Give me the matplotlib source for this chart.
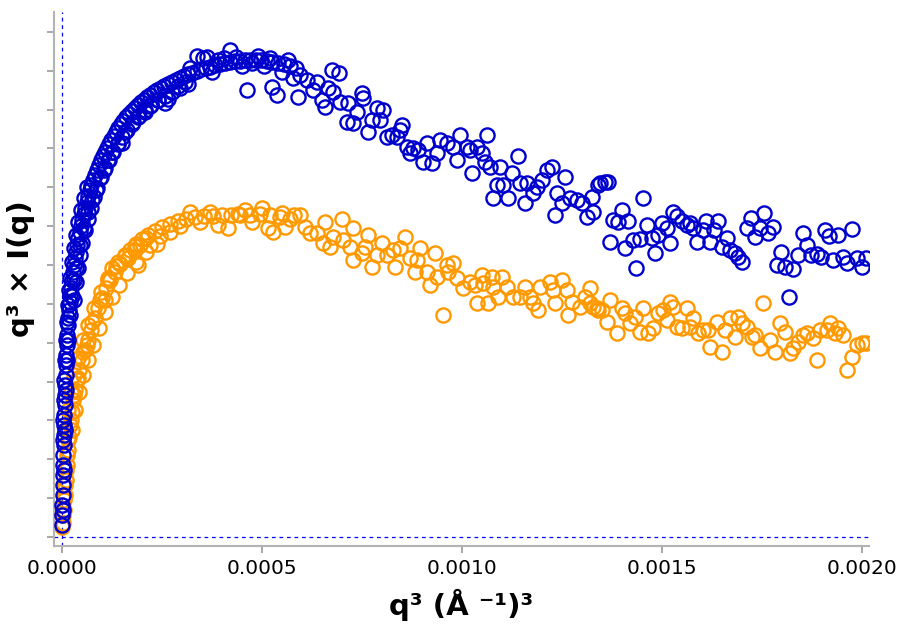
import numpy as np
import matplotlib
matplotlib.use("Agg")
import matplotlib.pyplot as plt

# q^3 values in units of 1e-4 A^-3, q^3*I(q) in arbitrary units (no y labels on the chart)
q3_blue = [
    0.00, 0.00, 0.025, 0.025, 0.025, 0.025, 0.025, 0.05, 0.05, 0.05, 0.05, 0.075, 0.075, 0.075,
    0.10, 0.10, 0.10, 0.125, 0.125, 0.15, 0.15, 0.175, 0.20, 0.20, 0.225, 0.25, 0.275, 0.30,
    0.325, 0.35, 0.375, 0.40, 0.45, 0.475, 0.50, 0.55, 0.575, 0.625, 0.65, 0.70, 0.725, 0.775,
    0.825, 0.875, 0.925, 0.975, 1.025, 1.075, 1.125, 1.175, 1.225, 1.30, 1.35, 1.40, 1.475,
    1.525, 1.60, 1.675, 1.75, 1.825, 1.90, 1.975, 2.05, 2.125, 2.20, 2.30, 2.375, 2.475, 2.55,
    2.65, 2.75, 2.85, 2.95, 3.05, 3.15, 3.25, 3.375, 3.475, 3.60, 3.70, 3.825, 3.95, 4.075,
    4.20, 4.325, 4.45, 4.575, 4.70, 4.85, 4.975, 5.125, 5.25, 5.40, 5.55, 5.70, 5.85,
    # scatter around the rising part and the maximum
    0.45, 0.55, 0.65, 0.75, 0.85, 0.95, 1.05, 1.15, 1.25, 1.40, 1.50, 1.575, 1.75, 1.90,
    2.075, 2.20, 2.40, 2.575, 2.65, 2.75, 2.90, 3.075, 3.20, 3.375, 3.525, 3.625, 3.75, 3.90,
    4.05, 4.20, 4.35, 4.50, 4.625, 4.75, 4.90, 5.05, 5.20, 5.25, 5.375, 5.50, 5.65, 5.775,
    5.90, 0.10, 0.125, 0.15, 0.20, 0.25, 0.30, 0.35, 0.05, 0.075, 0.00, 0.025,
    0.30, 0.35, 0.40, 0.45, 0.50, 0.575, 0.65, 0.725, 0.80, 0.875, 0.975, 1.075, 1.175,
    1.275, 1.40, 1.50, 1.625, 1.775, 1.925, 2.075, 2.225, 2.40, 2.575, 2.75, 2.95, 3.15,
    0.025, 0.025, 0.05, 0.05, 0.075, 0.10, 0.125, 0.15, 0.175, 0.20, 0.25, 0.30, 0.35,
    0.40, 0.475, 0.55, 0.625,
    # decaying part
    5.95, 6.125, 6.275, 6.375, 6.50, 6.575, 6.65, 6.75, 6.775, 6.925, 6.95, 7.125, 7.15,
    7.275, 7.375, 7.50, 7.525, 7.65, 7.75, 7.875, 7.95, 8.025, 8.125, 8.25, 8.375, 8.45,
    8.50, 8.625, 8.70, 8.775, 8.90, 9.025, 9.125, 9.25, 9.375, 9.45, 9.625, 9.775, 9.875,
    9.95, 10.125, 10.20, 10.25, 10.375, 10.50, 10.575, 10.625, 10.70, 10.775, 10.875, 10.95,
    11.025, 11.15, 11.25, 11.40, 11.45, 11.575, 11.625, 11.775, 11.875, 12.00, 12.125, 12.25,
    12.325, 12.375, 12.50, 12.575, 12.70, 12.875, 13.00, 13.125, 13.25, 13.275, 13.40,
    13.45, 13.575, 13.65, 13.70, 13.775, 13.90, 14.00, 14.075, 14.15, 14.275, 14.35, 14.45,
    14.525, 14.625, 14.75, 14.825, 14.90, 15.00, 15.125, 15.20, 15.275, 15.375, 15.50,
    15.625, 15.70, 15.775, 15.875, 16.025, 16.10, 16.20, 16.30, 16.40, 16.50, 16.625, 16.70,
    16.825, 16.90, 17.00, 17.125, 17.225, 17.325, 17.45, 17.55, 17.65, 17.775, 17.875,
    17.975, 18.075, 18.175, 18.275, 18.40, 18.525, 18.625, 18.725, 18.875, 18.975, 19.075,
    19.175, 19.275, 19.40, 19.525, 19.625, 19.75, 19.875, 20.00, 20.10,
]
iq_blue = [
    0.57, 0.82, 1.08, 1.34, 1.60, 1.85, 2.11, 2.37, 2.63, 2.88, 3.14, 3.40, 3.66, 3.91,
    4.17, 4.43, 4.68, 4.94, 5.20, 5.46, 5.64, 5.84, 6.05, 6.23, 6.41, 6.62, 6.82, 7.00,
    7.18, 7.34, 7.52, 7.70, 7.85, 8.01, 8.16, 8.31, 8.47, 8.62, 8.78, 8.93, 9.06, 9.19,
    9.32, 9.45, 9.58, 9.70, 9.81, 9.91, 10.01, 10.12, 10.22, 10.32, 10.42, 10.53, 10.63,
    10.71, 10.81, 10.89, 10.97, 11.04, 11.12, 11.20, 11.25, 11.33, 11.38, 11.45, 11.51, 11.56, 11.61,
    11.66, 11.71, 11.76, 11.81, 11.87, 11.92, 11.94, 11.99, 12.05, 12.07, 12.10, 12.15, 12.18, 12.20,
    12.23, 12.25, 12.25, 12.28, 12.28, 12.28, 12.28, 12.25, 12.23, 12.20, 12.18, 12.12, 12.07,
    7.52, 7.95, 8.37, 8.67, 8.93, 9.24, 9.45, 9.70, 9.91, 10.14, 10.14, 10.42, 10.63, 10.81,
    10.94, 11.09, 11.25, 11.17, 11.27, 11.45, 11.61, 11.71, 12.07, 12.38, 12.33, 12.36, 11.97, 12.28,
    12.33, 12.54, 12.36, 12.12, 11.51, 12.20, 12.38, 12.12, 12.33, 11.58, 11.38, 11.97, 12.28, 11.81,
    11.33, 3.78, 4.56, 5.07, 5.71, 6.20, 6.62, 6.92, 1.72, 2.75, 0.31, 0.69,
    6.10, 6.56, 6.92, 7.26, 7.57, 7.90, 8.19, 8.47, 8.75, 8.98, 9.27, 9.50, 9.70,
    9.91, 10.12, 10.30, 10.48, 10.68, 10.84, 10.99, 11.12, 11.25, 11.35, 11.45, 11.56, 11.66,
    2.50, 3.01, 3.53, 4.04, 4.56, 5.07, 5.53, 5.97, 6.36, 6.67, 7.08, 7.44, 7.77,
    8.11, 8.42, 8.73, 9.01,
    11.89, 11.76, 11.51, 11.71, 11.25, 11.07, 11.56, 12.02, 11.45, 11.94, 11.20, 10.68, 11.17,
    10.66, 10.94, 11.43, 11.30, 10.42, 10.73, 11.04, 10.73, 10.99, 10.30, 10.35, 10.30, 10.48,
    10.60, 10.04, 9.88, 10.01, 9.96, 9.65, 10.14, 9.63, 9.88, 10.22, 10.14, 10.04, 9.70,
    10.35, 10.04, 9.96, 9.37, 10.04, 9.88, 9.65, 10.35, 9.52, 8.73, 9.06, 9.52,
    9.06, 8.73, 9.37, 9.81, 9.11, 8.60, 9.11, 8.85, 9.01, 9.19, 9.45, 9.52,
    8.29, 8.85, 8.60, 9.27, 8.73, 8.67, 8.60, 8.24, 8.75, 8.37, 9.06,
    9.11, 9.14, 9.14, 7.59, 8.16, 8.11, 8.42, 7.44, 8.13, 7.64, 6.92, 7.67,
    8.73, 8.03, 7.70, 7.31, 7.77, 8.08, 7.95, 7.57, 8.37, 8.26, 8.13,
    8.03, 8.08, 7.95, 7.59, 7.90, 8.13, 7.59, 7.90, 8.13, 7.46, 7.70, 7.39,
    7.31, 7.21, 7.08, 7.95, 8.21, 7.72, 7.95, 8.34, 7.82, 7.98, 7.00,
    7.34, 6.95, 6.18, 6.90, 7.26, 7.82, 7.52, 7.26, 7.28, 7.21, 7.90,
    7.75, 7.13, 7.77, 7.21, 7.05, 7.93, 7.18, 6.95, 7.18,
]

q3_orange = [
    0.00, 0.025, 0.05, 0.075, 0.10, 0.125, 0.15, 0.175, 0.20, 0.25, 0.275, 0.325, 0.375,
    0.425, 0.50, 0.575, 0.65, 0.725, 0.825, 0.90, 1.00, 1.10, 1.20, 1.325, 1.45, 1.575,
    1.70, 1.85, 2.00, 2.15, 2.325, 2.50, 2.70, 2.90, 3.10, 3.325, 3.55, 3.775, 4.00, 4.225,
    4.45, 4.70, 4.95, 5.20, 5.45, 5.70,
    # scatter around the rising part and the maximum
    0.15, 0.225, 0.30, 0.40, 0.525, 0.625, 0.75, 0.95, 1.075, 1.15, 1.25, 1.40, 1.65, 1.825,
    1.95, 2.20, 2.45, 2.70, 2.95, 3.20, 3.45, 3.70, 3.90, 4.15, 4.40, 4.575, 4.75, 5.00,
    5.15, 5.275, 5.50, 5.80, 5.575, 1.90,
    0.25, 0.325, 0.425, 0.525, 0.65, 0.775, 0.925, 1.075, 1.25, 1.425, 1.625, 1.85, 2.10, 2.375,
    0.10, 0.15, 0.225, 0.30, 0.40, 0.525, 0.65, 0.80, 0.975, 1.15, 1.35, 1.575, 1.825, 2.10,
    0.025, 0.05, 0.075, 0.10, 0.125,
    # decaying part
    5.95, 6.075, 6.20, 6.375, 6.575, 7.00, 6.775, 6.525, 6.70, 7.025, 7.275, 7.20, 7.275,
    7.65, 7.575, 7.50, 7.75, 8.00, 7.875, 8.125, 8.275, 8.325, 8.45, 8.575, 8.70, 8.875,
    8.95, 8.825, 9.125, 9.325, 9.20, 9.375, 9.625, 9.775, 9.65, 9.875, 10.025, 10.20,
    10.325, 10.50, 10.525, 10.75, 10.775, 11.00, 11.125, 10.375, 10.65, 10.90, 11.275,
    11.45, 11.575, 11.70, 11.775, 11.90, 11.95, 12.20, 12.275, 12.50, 12.325, 12.625,
    12.75, 12.65, 12.95, 13.075, 13.20, 13.275, 13.40, 9.525,
    13.20, 13.375, 13.50, 13.625, 13.70, 13.875, 14.00, 14.075, 14.20, 14.325, 14.45,
    14.525, 14.65, 14.775, 14.90, 15.025, 15.20, 15.275, 15.125, 15.375, 15.50, 15.625,
    15.70, 15.775, 15.90, 16.025, 16.15, 16.20, 16.375, 16.50, 16.575, 16.70, 16.825,
    16.90, 17.00, 17.125, 17.25, 17.325, 17.45, 17.525, 17.70, 17.825, 17.95, 18.075,
    18.20, 18.275, 18.40, 18.525, 18.625, 18.775, 18.875, 18.95, 19.125, 19.20, 19.325,
    19.40, 19.525, 19.625, 19.75, 19.875, 20.00, 20.10,
]
iq_orange = [
    0.26, 0.36, 0.69, 1.08, 1.47, 1.85, 2.24, 2.57, 2.88, 3.22, 3.53, 3.78, 4.04,
    4.30, 4.56, 4.81, 5.07, 5.33, 5.64, 5.89, 6.15, 6.41, 6.62, 6.82, 7.03, 7.23,
    7.39, 7.54, 7.67, 7.77, 7.88, 7.98, 8.06, 8.13, 8.19, 8.24, 8.26, 8.26, 8.29, 8.29,
    8.29, 8.29, 8.31, 8.29, 8.24, 8.19,
    2.50, 3.01, 3.66, 4.09, 4.76, 4.94, 5.53, 6.10, 6.10, 6.62, 6.92, 7.08, 7.18, 7.39,
    7.52, 7.52, 7.75, 7.85, 8.01, 8.37, 8.11, 8.37, 8.03, 7.95, 8.31, 8.42, 8.11, 8.47,
    7.95, 7.85, 8.34, 8.29, 7.98, 7.00,
    2.75, 3.27, 3.73, 4.17, 4.56, 4.94, 5.38, 5.79, 6.18, 6.49, 6.80, 7.08, 7.34, 7.54,
    2.75, 3.27, 3.73, 4.17, 4.61, 5.07, 5.46, 5.89, 6.31, 6.67, 6.98, 7.26, 7.49, 7.70,
    0.57, 0.95, 1.34, 1.72, 2.11,
    8.29, 7.98, 7.82, 7.82, 8.11, 8.19, 7.72, 7.57, 7.46, 7.64, 7.95, 7.46, 7.13,
    7.77, 7.46, 7.31, 6.95, 7.57, 7.26, 7.26, 7.39, 6.95, 7.44, 7.72, 7.18, 7.13,
    7.44, 6.82, 6.82, 7.31, 6.49, 6.69, 7.00, 7.05, 6.82, 6.67, 6.41, 6.56,
    6.49, 6.74, 6.54, 6.69, 6.44, 6.69, 6.44, 6.02, 6.02, 6.18, 6.18,
    6.18, 6.44, 6.18, 6.02, 5.84, 6.44, 6.56, 6.36, 6.62, 6.02, 6.36,
    6.05, 5.71, 5.92, 6.18, 6.41, 5.92, 5.84, 5.71,
    6.02, 5.89, 5.84, 5.53, 6.10, 5.25, 5.89, 5.77, 5.51, 5.66, 5.28,
    5.89, 5.25, 5.38, 5.77, 5.84, 6.05, 5.92, 5.59, 5.41, 5.38, 5.89,
    5.41, 5.64, 5.25, 5.33, 5.33, 4.89, 5.53, 4.76, 5.33, 5.64, 5.15,
    5.66, 5.51, 5.41, 5.15, 5.20, 4.86, 6.02, 5.07, 4.76, 5.51, 5.28,
    4.74, 4.86, 5.02, 5.20, 5.25, 5.12, 4.56, 5.33, 5.33, 5.51, 5.25,
    5.38, 5.20, 4.30, 4.63, 4.94, 4.99, 4.99,
]

x_ticks = [0.0, 0.0005, 0.0010, 0.0015, 0.0020]
x_ticklabels = ["0.0000", "0.0005", "0.0010", "0.0015", "0.0020"]
y_ticks = list(range(0, 14))

fig = plt.figure(figsize=(9.01, 6.30), dpi=100)
ax = fig.add_axes([0.0599, 0.1333, 0.9045, 0.8476])

ax.axvline(0, color="#0000ff", lw=0.9, ls=(0, (3, 3)), zorder=1)
ax.axhline(0, color="#0000ff", lw=0.9, ls=(0, (3, 3)), zorder=1)

ax.plot(np.array(q3_orange) * 1e-4, iq_orange, ls="none", marker="o", ms=10.2,
        mfc="none", mec="#ff9900", mew=1.7, zorder=2)
ax.plot(np.array(q3_blue) * 1e-4, iq_blue, ls="none", marker="o", ms=10.2,
        mfc="none", mec="#0000cc", mew=1.7, zorder=3)

ax.set_xlim(-0.00002, 0.0020175)
ax.set_ylim(-0.23, 13.51)

for side in ["top", "right"]:
    ax.spines[side].set_visible(False)
for side in ["left", "bottom"]:
    ax.spines[side].set_color("#b3b3b3")
    ax.spines[side].set_linewidth(1.5)

ax.set_xticks(x_ticks)
ax.set_xticklabels(x_ticklabels, fontsize=14.5)
ax.set_yticks(y_ticks)
ax.set_yticklabels([])
ax.tick_params(axis="both", color="#999999", length=5, width=1.2, direction="out")
ax.tick_params(axis="x", pad=4)

ax.set_xlabel("q³ (Å ⁻¹)³", fontsize=21, fontweight="bold", labelpad=8)
ax.set_ylabel("q³ × I(q)", fontsize=21, fontweight="bold")
ax.yaxis.set_label_coords(-0.0233, 0.52)

fig.savefig("out.png", dpi=100)
